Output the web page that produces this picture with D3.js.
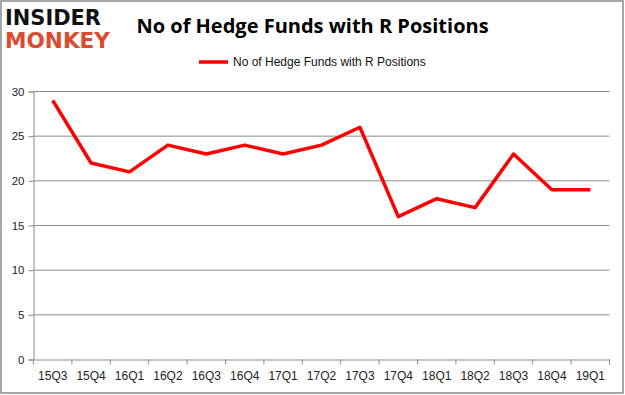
<!DOCTYPE html>
<html><head><meta charset="utf-8">
<script src="https://cdn.jsdelivr.net/npm/d3@7"></script>
<style>body{margin:0;background:#fff}svg{display:block}</style>
</head><body><svg id="c" width="625" height="395"></svg>
<script>
const categories = ["15Q3","15Q4","16Q1","16Q2","16Q3","16Q4","17Q1","17Q2","17Q3","17Q4","18Q1","18Q2","18Q3","18Q4","19Q1"];
const values = [29,22,21,24,23,24,23,24,26,16,18,17,23,19,19];
const yTicks = [0,5,10,15,20,25,30];
const title = "No of Hedge Funds with R Positions";
const seriesName = "No of Hedge Funds with R Positions";

const svg = d3.select("#c");
svg.append("rect").attr("x",1).attr("y",1).attr("width",622).attr("height",392)
  .attr("fill","#fff").attr("stroke","#898989").attr("stroke-width",1.5);

const m = {l:33.5, r:609.5, t:91.5, b:359.5};
const x = d3.scaleBand().domain(categories).range([m.l, m.r]);
const y = d3.scaleLinear().domain([0,30]).range([m.b, m.t]);

// gridlines
svg.append("g").selectAll("line").data(yTicks.filter(d=>d>0)).join("line")
  .attr("x1",m.l).attr("x2",m.r).attr("y1",d=>y(d)).attr("y2",d=>y(d))
  .attr("stroke","#8c8c8c").attr("stroke-width",1);

// y axis
const ya = svg.append("g").attr("transform",`translate(${m.l},0)`)
  .call(d3.axisLeft(y).tickValues(yTicks).tickSize(5).tickPadding(4));
ya.select(".domain").attr("stroke","#8c8c8c");
ya.selectAll(".tick line").attr("stroke","#8c8c8c");
ya.selectAll("text").attr("fill","#222").style("font-family","'Liberation Sans', Arial, sans-serif").style("font-size","11.5px");

// x axis
const xa = svg.append("g").attr("transform",`translate(0,${m.b})`)
  .call(d3.axisBottom(x).tickSize(0).tickPadding(12));
xa.select(".domain").attr("stroke","#8c8c8c");
xa.selectAll("text").attr("fill","#222").style("font-family","'Liberation Sans', Arial, sans-serif").style("font-size","12px");
const bounds = categories.map(c=>x(c)).concat([m.r]);
xa.selectAll(".bt").data(bounds).join("line").attr("class","bt")
  .attr("x1",d=>d).attr("x2",d=>d).attr("y1",0).attr("y2",5).attr("stroke","#8c8c8c");

// line
const line = d3.line().x((d,i)=>x(categories[i])+x.bandwidth()/2).y(d=>y(d));
svg.append("path").datum(values).attr("d",line).attr("fill","none")
  .attr("stroke","#ff0000").attr("stroke-width",3.5).attr("stroke-linejoin","round");

// title
svg.append("text").attr("x",312.5).attr("y",33).attr("text-anchor","middle")
  .style("font-family","'Open Sans', sans-serif").style("font-weight","bold").style("font-size","20px")
  .attr("fill","#000").text(title);

// legend
svg.append("line").attr("x1",199).attr("x2",228).attr("y1",62).attr("y2",62)
  .attr("stroke","#ff0000").attr("stroke-width",3.5);
svg.append("text").attr("x",233).attr("y",66)
  .style("font-family","'Liberation Sans', Arial, sans-serif").style("font-size","12px")
  .attr("fill","#111").text(seriesName);

// logo
svg.append("text").attr("x",5).attr("y",25)
  .style("font-family","'DejaVu Sans', sans-serif").style("font-weight","bold").style("font-size","22px")
  .attr("textLength",96).attr("lengthAdjust","spacingAndGlyphs").attr("fill","#111").text("INSIDER");
svg.append("text").attr("x",5).attr("y",48)
  .style("font-family","'DejaVu Sans', sans-serif").style("font-weight","bold").style("font-size","22px")
  .attr("textLength",105).attr("lengthAdjust","spacingAndGlyphs").attr("fill","#de4a2e").text("MONKEY");
</script></body></html>
